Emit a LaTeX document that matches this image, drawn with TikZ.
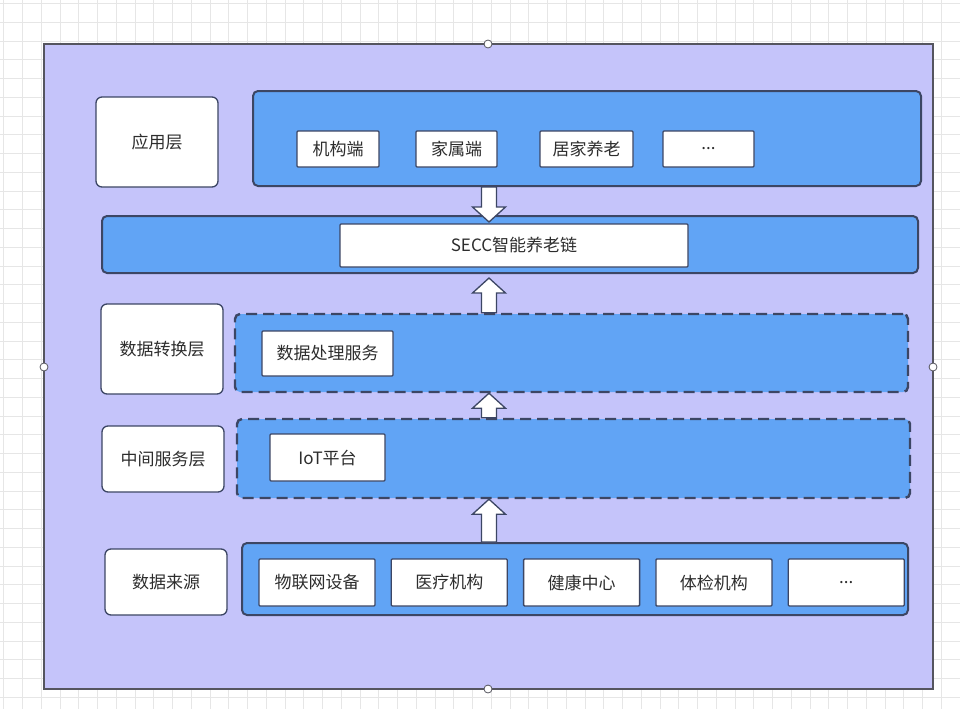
\documentclass[tikz,border=0pt]{standalone}
\usepackage{fontspec}
\setmainfont{Noto Sans CJK SC}
\usetikzlibrary{positioning, calc}
\definecolor{lavender}{RGB}{197,196,250}
\definecolor{layerblue}{RGB}{97,164,245}
\definecolor{edgeblue}{RGB}{60,70,100}
\definecolor{textgray}{RGB}{45,45,45}
\definecolor{framegray}{RGB}{85,85,95}
\definecolor{gridgray}{RGB}{230,230,230}
\tikzset{
x=1pt, y=-1pt, % one unit is one pixel of the screenshot, y grows downwards
every node/.style={font=\fontsize{17}{20}\selectfont, text=textgray},
layerbox/.style={draw=edgeblue, line width=1.3pt, fill=white, rounded corners=6pt, inner sep=0pt}, % layer names on the left
bandbox/.style={draw=edgeblue, line width=2pt, fill=layerblue, rounded corners=5pt, inner sep=0pt}, % blue layer bands
dashbandbox/.style={bandbox, dash pattern=on 11pt off 6pt, line width=2.4pt},
entrybox/.style={draw=edgeblue, line width=1.3pt, fill=white, inner sep=0pt, rounded corners=1pt}, % white boxes in a band
blockarrow/.style={draw=edgeblue, line width=1.3pt, fill=white, line join=miter},
gridline/.style={gridgray, line width=0.6pt},
grip/.style={circle, draw=framegray, fill=white, line width=0.8pt, inner sep=0pt, minimum size=8pt},
}
% hollow block arrow from #1 (base) to #2 (tip)
\newcommand{\blockarrow}[2]{%
  \coordinate (hb) at ($(#2)!15pt!(#1)$);
  \draw[blockarrow] ($(#1)!7.5pt!90:(#2)$) -- ($(hb)!7.5pt!90:(#2)$) -- ($(hb)!16.5pt!90:(#2)$) -- (#2)
    -- ($(hb)!16.5pt!-90:(#2)$) -- ($(hb)!7.5pt!-90:(#2)$) -- ($(#1)!7.5pt!-90:(#2)$) -- cycle;
}

\begin{document}
\begin{tikzpicture}
\useasboundingbox (0,0) rectangle (960,709);
% editor grid
\foreach \i in {0,...,51} \draw[gridline] (3.75+18.75*\i,0) -- (3.75+18.75*\i,709);
\foreach \j in {0,...,38} \draw[gridline] (0,3.5+18.75*\j) -- (960,3.5+18.75*\j);

% canvas
\draw[framegray, line width=2pt, fill=lavender] (44,44) rectangle (933,689);
\node[grip] (g1) at (488,44) {};
\node[grip] (g2) at (44,367) {};
\node[grip] (g3) at (933,367) {};
\node[grip] (g4) at (488,689) {};

% layer names
\node[layerbox, minimum width=122pt, minimum height=90pt] (appL) at (157,142) {应用层};
\node[layerbox, minimum width=122pt, minimum height=90pt] (convL) at (162,349) {数据转换层};
\node[layerbox, minimum width=122pt, minimum height=66pt] (midL) at (163,459) {中间服务层};
\node[layerbox, minimum width=122pt, minimum height=66pt] (srcL) at (166,582) {数据来源};

% bands
\node[bandbox, minimum width=668pt, minimum height=95pt] (app) at (587,138.5) {};
\node[bandbox, minimum width=816pt, minimum height=57pt] (secc) at (510,244.5) {};
\node[dashbandbox, minimum width=673pt, minimum height=78pt] (conv) at (571.5,353) {};
\node[dashbandbox, minimum width=673pt, minimum height=79pt] (mid) at (573.5,458.5) {};
\node[bandbox, minimum width=666pt, minimum height=72pt] (src) at (575,579) {};

% application layer
\node[entrybox, minimum width=82pt, minimum height=36pt] (a1) at (338,149) {机构端};
\node[entrybox, minimum width=81pt, minimum height=36pt] (a2) at (456.5,149) {家属端};
\node[entrybox, minimum width=93pt, minimum height=36pt] (a3) at (586.5,149) {居家养老};
\node[entrybox, minimum width=91pt, minimum height=36pt] (a4) at (708.5,149) {...};

% chain
\node[entrybox, minimum width=348pt, minimum height=43pt] (chain) at (514,245.5) {SECC智能养老链};

% conversion and middle layers
\node[entrybox, minimum width=131pt, minimum height=45pt] (proc) at (327.5,353.5) {数据处理服务};
\node[entrybox, minimum width=115pt, minimum height=47pt] (iot) at (327.5,457.5) {IoT平台};

% data sources
\node[entrybox, minimum width=116pt, minimum height=47pt] (s1) at (317,582.5) {物联网设备};
\node[entrybox, minimum width=116pt, minimum height=47pt, right=15pt of s1] (s2) {医疗机构};
\node[entrybox, minimum width=116pt, minimum height=47pt, right=15pt of s2] (s3) {健康中心};
\node[entrybox, minimum width=116pt, minimum height=47pt, right=15pt of s3] (s4) {体检机构};
\node[entrybox, minimum width=116pt, minimum height=47pt, right=15pt of s4] (s5) {...};

% arrows between the layers
\coordinate (ax) at (489,0);
\coordinate (b1) at (app.south -| ax);
\coordinate (t1) at ($(secc.north -| ax)+(0,7)$);
\coordinate (b2) at (conv.north -| ax);
\coordinate (t2) at ($(secc.south -| ax)+(0,4)$);
\coordinate (b3) at (mid.north -| ax);
\coordinate (t3) at (conv.south -| ax);
\coordinate (b4) at (src.north -| ax);
\coordinate (t4) at (mid.south -| ax);
\blockarrow{b1}{t1}
\blockarrow{b2}{t2}
\blockarrow{b3}{t3}
\blockarrow{b4}{t4}
\end{tikzpicture}
\end{document}
